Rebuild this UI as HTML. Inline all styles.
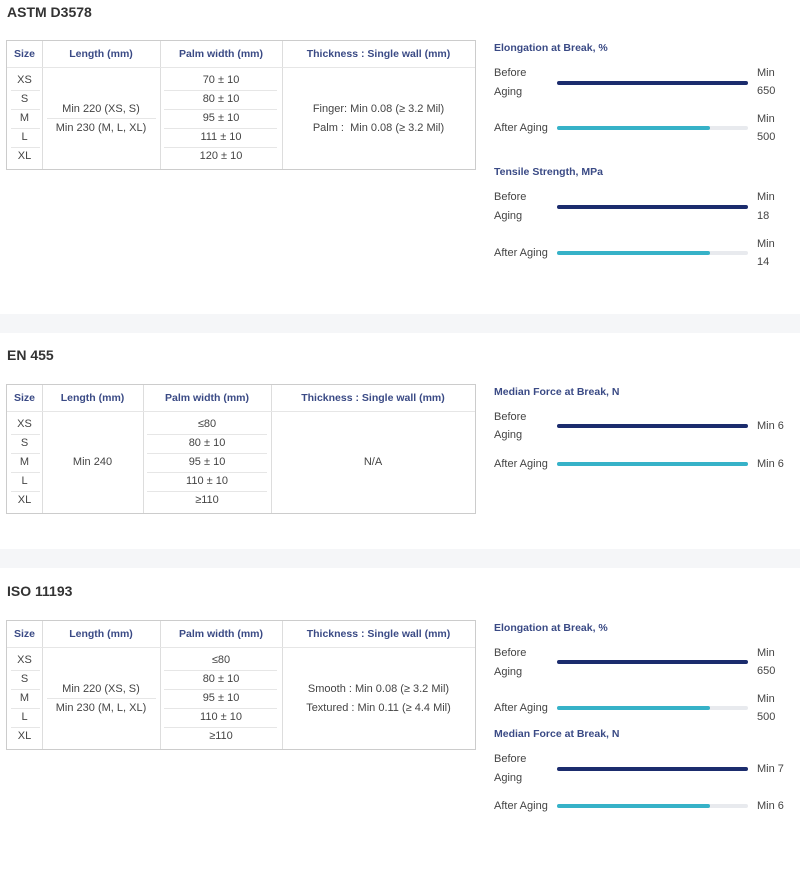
<!DOCTYPE html>
<html><head><meta charset="utf-8"><style>
body{margin:0;width:800px;height:869px;position:relative;background:#fff;font-family:"Liberation Sans",sans-serif;overflow:hidden}
div{position:absolute}
.h{font-size:14px;font-weight:bold;color:#333;left:7px;line-height:18px}
.band{left:0;width:800px;height:19px;background:#f5f6f8}
.box{border:1px solid #ccc;box-sizing:border-box}
.v{width:1px;background:#ddd}
.hl{height:1px;background:#e6e6e6}
.c{text-align:center;font-size:11px;line-height:14px;color:#444;white-space:nowrap}
.th{text-align:center;font-size:10.5px;line-height:14px;color:#3a4a85;font-weight:bold;white-space:nowrap}
.tt{left:494px;font-size:10.5px;font-weight:bold;color:#3a4a85;line-height:14px}
.l{left:494px;font-size:11px;color:#444;line-height:14px}
.r{left:757px;font-size:11px;color:#444;line-height:14px}
.bar{left:557px;width:191px;height:4px;border-radius:2px;background:#e8eaee}
.bar.d{background:#1b2c6d}
.bar i{position:absolute;left:0;top:0;height:4px;width:153px;border-radius:2px;background:#36b2c8}
.bar.full i{width:191px}
</style></head><body>

<div class="h" style="top:3px">ASTM D3578</div>
<div class="band" style="top:314px"></div>
<div class="h" style="top:346px">EN 455</div>
<div class="band" style="top:549px"></div>
<div class="h" style="top:582px">ISO 11193</div>

<!-- Table 1 -->
<div class="box" style="left:6px;top:40px;width:470px;height:130px"></div>
<div class="v" style="left:42px;top:41px;height:128px"></div>
<div class="v" style="left:160px;top:41px;height:128px"></div>
<div class="v" style="left:282px;top:41px;height:128px"></div>
<div class="hl" style="left:7px;top:67px;width:468px"></div>
<div class="th" style="left:7px;width:35px;top:47px">Size</div>
<div class="th" style="left:42px;width:118px;top:47px">Length (mm)</div>
<div class="th" style="left:160px;width:122px;top:47px">Palm width (mm)</div>
<div class="th" style="left:282px;width:193px;top:47px">Thickness : Single wall (mm)</div>
<div class="c" style="left:7px;width:35px;top:73px">XS</div>
<div class="c" style="left:7px;width:35px;top:92px">S</div>
<div class="c" style="left:7px;width:35px;top:111px">M</div>
<div class="c" style="left:7px;width:35px;top:130px">L</div>
<div class="c" style="left:7px;width:35px;top:149px">XL</div>
<div class="hl" style="left:11px;width:29px;top:90px"></div><div class="hl" style="left:11px;width:29px;top:109px"></div><div class="hl" style="left:11px;width:29px;top:128px"></div><div class="hl" style="left:11px;width:29px;top:147px"></div>
<div class="c" style="left:42px;width:118px;top:102px">Min 220 (XS, S)</div>
<div class="hl" style="left:47px;width:109px;top:118px"></div>
<div class="c" style="left:42px;width:118px;top:121px">Min 230 (M, L, XL)</div>
<div class="c" style="left:160px;width:122px;top:73px">70 ± 10</div>
<div class="c" style="left:160px;width:122px;top:92px">80 ± 10</div>
<div class="c" style="left:160px;width:122px;top:111px">95 ± 10</div>
<div class="c" style="left:160px;width:122px;top:130px">111 ± 10</div>
<div class="c" style="left:160px;width:122px;top:149px">120 ± 10</div>
<div class="hl" style="left:164px;width:113px;top:90px"></div><div class="hl" style="left:164px;width:113px;top:109px"></div><div class="hl" style="left:164px;width:113px;top:128px"></div><div class="hl" style="left:164px;width:113px;top:147px"></div>
<div class="c" style="left:282px;width:193px;top:102px">Finger: Min 0.08 (≥ 3.2 Mil)</div>
<div class="c" style="left:282px;width:193px;top:121px">Palm :&nbsp; Min 0.08 (≥ 3.2 Mil)</div>

<!-- Table 2 -->
<div class="box" style="left:6px;top:384px;width:470px;height:130px"></div>
<div class="v" style="left:42px;top:385px;height:128px"></div>
<div class="v" style="left:143px;top:385px;height:128px"></div>
<div class="v" style="left:271px;top:385px;height:128px"></div>
<div class="hl" style="left:7px;top:411px;width:468px"></div>
<div class="th" style="left:7px;width:35px;top:391px">Size</div>
<div class="th" style="left:42px;width:101px;top:391px">Length (mm)</div>
<div class="th" style="left:143px;width:128px;top:391px">Palm width (mm)</div>
<div class="th" style="left:271px;width:204px;top:391px">Thickness : Single wall (mm)</div>
<div class="c" style="left:7px;width:35px;top:417px">XS</div>
<div class="c" style="left:7px;width:35px;top:436px">S</div>
<div class="c" style="left:7px;width:35px;top:455px">M</div>
<div class="c" style="left:7px;width:35px;top:474px">L</div>
<div class="c" style="left:7px;width:35px;top:493px">XL</div>
<div class="hl" style="left:11px;width:29px;top:434px"></div><div class="hl" style="left:11px;width:29px;top:453px"></div><div class="hl" style="left:11px;width:29px;top:472px"></div><div class="hl" style="left:11px;width:29px;top:491px"></div>
<div class="c" style="left:42px;width:101px;top:455px">Min 240</div>
<div class="c" style="left:143px;width:128px;top:417px">≤80</div>
<div class="c" style="left:143px;width:128px;top:436px">80 ± 10</div>
<div class="c" style="left:143px;width:128px;top:455px">95 ± 10</div>
<div class="c" style="left:143px;width:128px;top:474px">110 ± 10</div>
<div class="c" style="left:143px;width:128px;top:493px">≥110</div>
<div class="hl" style="left:147px;width:120px;top:434px"></div><div class="hl" style="left:147px;width:120px;top:453px"></div><div class="hl" style="left:147px;width:120px;top:472px"></div><div class="hl" style="left:147px;width:120px;top:491px"></div>
<div class="c" style="left:271px;width:204px;top:455px">N/A</div>

<!-- Table 3 -->
<div class="box" style="left:6px;top:620px;width:470px;height:130px"></div>
<div class="v" style="left:42px;top:621px;height:128px"></div>
<div class="v" style="left:160px;top:621px;height:128px"></div>
<div class="v" style="left:282px;top:621px;height:128px"></div>
<div class="hl" style="left:7px;top:647px;width:468px"></div>
<div class="th" style="left:7px;width:35px;top:627px">Size</div>
<div class="th" style="left:42px;width:118px;top:627px">Length (mm)</div>
<div class="th" style="left:160px;width:122px;top:627px">Palm width (mm)</div>
<div class="th" style="left:282px;width:193px;top:627px">Thickness : Single wall (mm)</div>
<div class="c" style="left:7px;width:35px;top:653px">XS</div>
<div class="c" style="left:7px;width:35px;top:672px">S</div>
<div class="c" style="left:7px;width:35px;top:691px">M</div>
<div class="c" style="left:7px;width:35px;top:710px">L</div>
<div class="c" style="left:7px;width:35px;top:729px">XL</div>
<div class="hl" style="left:11px;width:29px;top:670px"></div><div class="hl" style="left:11px;width:29px;top:689px"></div><div class="hl" style="left:11px;width:29px;top:708px"></div><div class="hl" style="left:11px;width:29px;top:727px"></div>
<div class="c" style="left:42px;width:118px;top:682px">Min 220 (XS, S)</div>
<div class="hl" style="left:47px;width:109px;top:698px"></div>
<div class="c" style="left:42px;width:118px;top:701px">Min 230 (M, L, XL)</div>
<div class="c" style="left:160px;width:122px;top:653px">≤80</div>
<div class="c" style="left:160px;width:122px;top:672px">80 ± 10</div>
<div class="c" style="left:160px;width:122px;top:691px">95 ± 10</div>
<div class="c" style="left:160px;width:122px;top:710px">110 ± 10</div>
<div class="c" style="left:160px;width:122px;top:729px">≥110</div>
<div class="hl" style="left:164px;width:113px;top:670px"></div><div class="hl" style="left:164px;width:113px;top:689px"></div><div class="hl" style="left:164px;width:113px;top:708px"></div><div class="hl" style="left:164px;width:113px;top:727px"></div>
<div class="c" style="left:282px;width:193px;top:682px">Smooth : Min 0.08 (≥ 3.2 Mil)</div>
<div class="c" style="left:282px;width:193px;top:701px">Textured : Min 0.11 (≥ 4.4 Mil)</div>

<!-- Bars section 1 -->
<div class="tt" style="top:41px">Elongation at Break, %</div>
<div class="l" style="top:66px">Before</div><div class="l" style="top:85px">Aging</div>
<div class="bar d" style="top:81px"></div>
<div class="r" style="top:66px">Min</div><div class="r" style="top:84px">650</div>
<div class="l" style="top:121px">After Aging</div>
<div class="bar" style="top:126px"><i></i></div>
<div class="r" style="top:112px">Min</div><div class="r" style="top:130px">500</div>

<div class="tt" style="top:165px">Tensile Strength, MPa</div>
<div class="l" style="top:190px">Before</div><div class="l" style="top:209px">Aging</div>
<div class="bar d" style="top:205px"></div>
<div class="r" style="top:190px">Min</div><div class="r" style="top:209px">18</div>
<div class="l" style="top:246px">After Aging</div>
<div class="bar" style="top:251px"><i></i></div>
<div class="r" style="top:237px">Min</div><div class="r" style="top:255px">14</div>

<!-- Bars section 2 -->
<div class="tt" style="top:385px">Median Force at Break, N</div>
<div class="l" style="top:410px">Before</div><div class="l" style="top:428px">Aging</div>
<div class="bar d" style="top:424px"></div>
<div class="r" style="top:419px">Min 6</div>
<div class="l" style="top:457px">After Aging</div>
<div class="bar full" style="top:462px"><i></i></div>
<div class="r" style="top:457px">Min 6</div>

<!-- Bars section 3 -->
<div class="tt" style="top:621px">Elongation at Break, %</div>
<div class="l" style="top:646px">Before</div><div class="l" style="top:665px">Aging</div>
<div class="bar d" style="top:660px"></div>
<div class="r" style="top:646px">Min</div><div class="r" style="top:664px">650</div>
<div class="l" style="top:701px">After Aging</div>
<div class="bar" style="top:706px"><i></i></div>
<div class="r" style="top:692px">Min</div><div class="r" style="top:710px">500</div>

<div class="tt" style="top:727px">Median Force at Break, N</div>
<div class="l" style="top:752px">Before</div><div class="l" style="top:771px">Aging</div>
<div class="bar d" style="top:767px"></div>
<div class="r" style="top:762px">Min 7</div>
<div class="l" style="top:799px">After Aging</div>
<div class="bar" style="top:804px"><i></i></div>
<div class="r" style="top:799px">Min 6</div>

</body></html>
